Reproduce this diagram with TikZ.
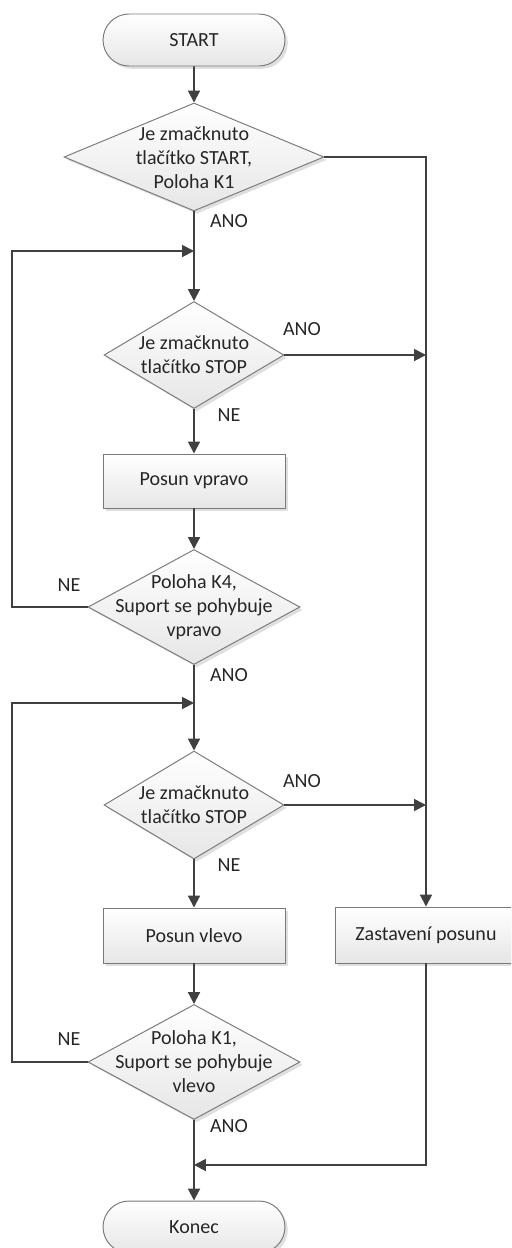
\documentclass[tikz,border=0pt]{standalone}
\usepackage{fontspec}
\setmainfont{Carlito}
\usetikzlibrary{shapes.geometric,shapes.misc,arrows.meta,shadows}
\definecolor{linec}{HTML}{404040}
\definecolor{borderc}{HTML}{7A7A7A}
\definecolor{shadec}{HTML}{E6E6E6}
\tikzset{
  base/.style={draw=borderc, line width=0.55pt, top color=white, bottom color=shadec,
    drop shadow={shadow xshift=1.6pt, shadow yshift=-1.6pt, opacity=0.25, fill=gray},
    inner sep=0pt, font=\fontsize{11.4}{13.7}\selectfont, text=black!85},
  term/.style={base, rounded rectangle, minimum width=3.64cm, minimum height=1.04cm},
  proc/.style={base, rectangle, minimum width=3.64cm, minimum height=1.08cm},
  dec/.style={base, diamond, aspect=2},
  dtext/.style={align=center, inner sep=0pt, font=\fontsize{11.4}{13.7}\selectfont, text=black!85},
  lab/.style={inner sep=0pt, font=\fontsize{11.4}{13.7}\selectfont, text=black!85},
  conn/.style={draw=linec, line width=1.1pt},
  arr/.style={conn, -{Triangle[length=6.8pt,width=6.8pt]}},
}
\begin{document}
\begin{tikzpicture}[x=0.02cm,y=-0.02cm]
\useasboundingbox (0,0) rectangle (511,1248);
\clip (0,0) rectangle (511,1248);
% nodes
\node[term] (start) at (194,40) {START};
\node[dec, minimum width=5.2cm, minimum height=2.16cm] (d1) at (194,157) {};
\node[dtext] (t1) at (194,158) {Je zmačknuto\\tlačítko START,\\Poloha K1};
\coordinate (j1) at (194,251);
\node[dec, minimum width=3.6cm, minimum height=2.14cm] (d2) at (194,355) {};
\node[dtext] (t2) at (194,355) {Je zmačknuto\\tlačítko STOP};
\node[proc] (r1) at (194,481) {Posun vpravo};
\node[dec, minimum width=4.24cm, minimum height=2.3cm] (d3) at (194,607) {};
\node[dtext] (t3) at (194,607) {Poloha K4,\\Suport se pohybuje\\vpravo};
\coordinate (j2) at (194,703);
\node[dec, minimum width=3.6cm, minimum height=2.16cm] (d4) at (194,805) {};
\node[dtext] (t4) at (194,805) {Je zmačknuto\\tlačítko STOP};
\node[proc, minimum height=1.1cm] (r2) at (194,935.5) {Posun vlevo};
\node[proc, minimum height=1.12cm] (r3) at (426,935) {Zastavení posunu};
\node[dec, minimum width=4.24cm, minimum height=2.3cm] (d5) at (194,1062) {};
\node[dtext] (t5) at (194,1062) {Poloha K1,\\Suport se pohybuje\\vlevo};
\coordinate (j3) at (194,1165);
\node[term] (konec) at (194,1227) {Konec};
% right column helper points
\coordinate (c1) at (426,157);
\coordinate (c2) at (426,355);
\coordinate (c4) at (426,805);
\coordinate (c5) at (426,1165);
\coordinate (l3) at (12,607);
\coordinate (l3t) at (12,251);
\coordinate (l5) at (12,1062);
\coordinate (l5t) at (12,703);
% connectors main
\draw[arr] (start) -- (d1);
\draw[arr] (d1) -- (d2);
\draw[arr] (d2) -- (r1);
\draw[arr] (r1) -- (d3);
\draw[arr] (d3) -- (d4);
\draw[arr] (d4) -- (r2);
\draw[arr] (r2) -- (d5);
\draw[arr] (d5) -- (konec);
% loops
\draw[arr] (d3.west) -- (l3) -- (l3t) -- (j1);
\draw[arr] (d5.west) -- (l5) -- (l5t) -- (j2);
% right branch
\draw[arr] (d1.east) -- (c1) -- (r3.north);
\draw[arr] (d2.east) -- (c2);
\draw[arr] (d4.east) -- (c4);
\draw[arr] (r3.south) -- (c5) -- (j3);
% labels
\node[lab] (a1) at (229,221) {ANO};
\node[lab] (a2) at (302,329) {ANO};
\node[lab] (n2) at (229,415) {NE};
\node[lab] (n3) at (69,585) {NE};
\node[lab] (a3) at (229,675) {ANO};
\node[lab] (a4) at (302,781) {ANO};
\node[lab] (n4) at (229,865) {NE};
\node[lab] (n5) at (69,1039) {NE};
\node[lab] (a5) at (229,1126) {ANO};
\end{tikzpicture}
\end{document}
